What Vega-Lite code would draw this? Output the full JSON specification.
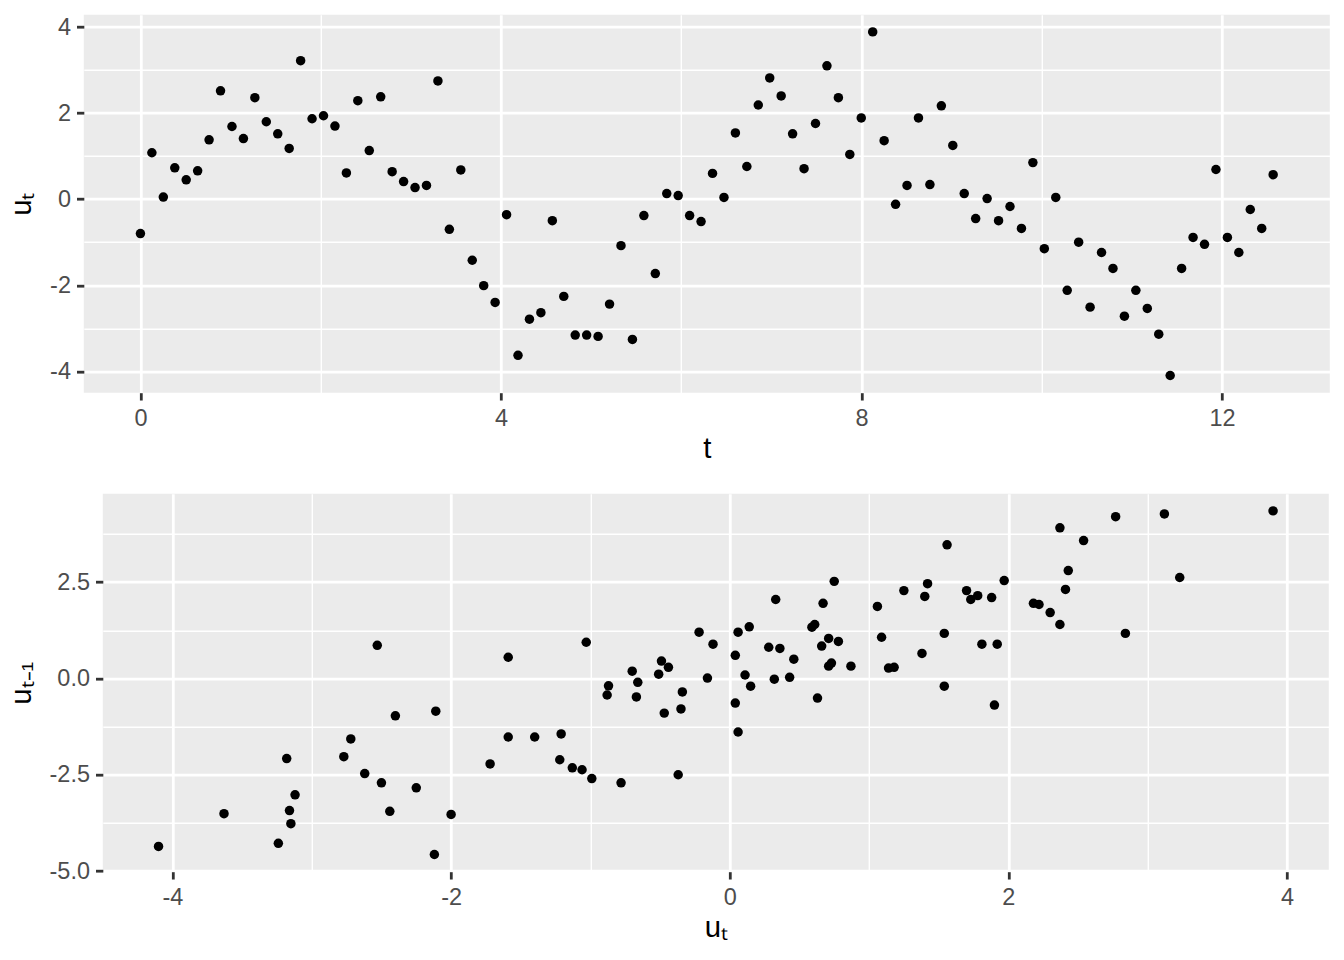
{
  "$schema": "https://vega.github.io/schema/vega-lite/v6.json",
  "background": "white",
  "padding": {"left": 5.8, "top": 14.7, "right": 14.7, "bottom": 10},
  "config": {
    "font": "Liberation Sans",
    "view": {"stroke": null},
    "axis": {
      "domain": false,
      "grid": true,
      "gridColor": "white",
      "tickColor": "#333333",
      "tickWidth": 2.8,
      "tickSize": 7.33,
      "labelFont": "Liberation Sans",
      "labelFontSize": 23.47,
      "labelColor": "#4D4D4D",
      "labelPadding": 6,
      "titleFont": "Liberation Sans",
      "titleFontSize": 29.33,
      "titleFontWeight": "normal",
      "titleColor": "#000000",
      "labelFlush": false,
      "labelOverlap": false
    },
    "axisX": {"titlePadding": 5},
    "axisY": {"titlePadding": 13}
  },
  "datasets": {
    "ts": [
      {"t": 0, "u": -0.80}, {"t": 0.1269, "u": 1.08}, {"t": 0.2539, "u": 0.05}, {"t": 0.3808, "u": 0.73}, {"t": 0.5077, "u": 0.45},
      {"t": 0.6347, "u": 0.66}, {"t": 0.7616, "u": 1.38}, {"t": 0.8885, "u": 2.52}, {"t": 1.0155, "u": 1.69}, {"t": 1.1424, "u": 1.41},
      {"t": 1.2693, "u": 2.36}, {"t": 1.3963, "u": 1.80}, {"t": 1.5232, "u": 1.52}, {"t": 1.6501, "u": 1.18}, {"t": 1.7771, "u": 3.22},
      {"t": 1.9040, "u": 1.87}, {"t": 2.0309, "u": 1.94}, {"t": 2.1579, "u": 1.70}, {"t": 2.2848, "u": 0.61}, {"t": 2.4117, "u": 2.29},
      {"t": 2.5387, "u": 1.13}, {"t": 2.6656, "u": 2.38}, {"t": 2.7925, "u": 0.64}, {"t": 2.9195, "u": 0.41}, {"t": 3.0464, "u": 0.27},
      {"t": 3.1733, "u": 0.32}, {"t": 3.3003, "u": 2.75}, {"t": 3.4272, "u": -0.70}, {"t": 3.5541, "u": 0.68}, {"t": 3.6811, "u": -1.42},
      {"t": 3.8080, "u": -2.01}, {"t": 3.9349, "u": -2.40}, {"t": 4.0619, "u": -0.36}, {"t": 4.1888, "u": -3.63}, {"t": 4.3157, "u": -2.79},
      {"t": 4.4427, "u": -2.64}, {"t": 4.5696, "u": -0.50}, {"t": 4.6965, "u": -2.26}, {"t": 4.8235, "u": -3.16}, {"t": 4.9504, "u": -3.16},
      {"t": 5.0773, "u": -3.19}, {"t": 5.2043, "u": -2.44}, {"t": 5.3312, "u": -1.08}, {"t": 5.4581, "u": -3.26}, {"t": 5.5851, "u": -0.38},
      {"t": 5.7120, "u": -1.73}, {"t": 5.8389, "u": 0.13}, {"t": 5.9659, "u": 0.085}, {"t": 6.0928, "u": -0.38}, {"t": 6.2197, "u": -0.52},
      {"t": 6.3467, "u": 0.60}, {"t": 6.4736, "u": 0.04}, {"t": 6.6005, "u": 1.54}, {"t": 6.7275, "u": 0.76}, {"t": 6.8544, "u": 2.19},
      {"t": 6.9813, "u": 2.82}, {"t": 7.1083, "u": 2.40}, {"t": 7.2352, "u": 1.52}, {"t": 7.3621, "u": 0.71}, {"t": 7.4891, "u": 1.76},
      {"t": 7.6160, "u": 3.10}, {"t": 7.7429, "u": 2.36}, {"t": 7.8699, "u": 1.04}, {"t": 7.9968, "u": 1.89}, {"t": 8.1237, "u": 3.89},
      {"t": 8.2507, "u": 1.36}, {"t": 8.3776, "u": -0.12}, {"t": 8.5045, "u": 0.32}, {"t": 8.6315, "u": 1.89}, {"t": 8.7584, "u": 0.34},
      {"t": 8.8853, "u": 2.17}, {"t": 9.0123, "u": 1.25}, {"t": 9.1392, "u": 0.13}, {"t": 9.2661, "u": -0.45}, {"t": 9.3931, "u": 0.015},
      {"t": 9.5200, "u": -0.50}, {"t": 9.6469, "u": -0.17}, {"t": 9.7739, "u": -0.68}, {"t": 9.9008, "u": 0.85}, {"t": 10.0277, "u": -1.15},
      {"t": 10.1547, "u": 0.04}, {"t": 10.2816, "u": -2.12}, {"t": 10.4085, "u": -1.00}, {"t": 10.5355, "u": -2.51}, {"t": 10.6624, "u": -1.24},
      {"t": 10.7893, "u": -1.61}, {"t": 10.9163, "u": -2.72}, {"t": 11.0432, "u": -2.12}, {"t": 11.1701, "u": -2.54}, {"t": 11.2971, "u": -3.14},
      {"t": 11.4240, "u": -4.10}, {"t": 11.5509, "u": -1.61}, {"t": 11.6779, "u": -0.89}, {"t": 11.8048, "u": -1.05}, {"t": 11.9317, "u": 0.69},
      {"t": 12.0587, "u": -0.89}, {"t": 12.1856, "u": -1.24}, {"t": 12.3125, "u": -0.24}, {"t": 12.4395, "u": -0.68}, {"t": 12.5664, "u": 0.57}
    ],
    "lag": [
      {"ut": -4.10, "ulag": -4.36}, {"ut": -3.63, "ulag": -3.51}, {"ut": -3.18, "ulag": -2.08}, {"ut": -3.24, "ulag": -4.28},
      {"ut": -3.16, "ulag": -3.43}, {"ut": -3.15, "ulag": -3.77}, {"ut": -3.12, "ulag": -3.02}, {"ut": -2.77, "ulag": -2.03},
      {"ut": -2.72, "ulag": -1.57}, {"ut": -2.62, "ulag": -2.47}, {"ut": -2.53, "ulag": 0.86}, {"ut": -2.50, "ulag": -2.71},
      {"ut": -2.44, "ulag": -3.45}, {"ut": -2.40, "ulag": -0.97},
      {"ut": -2.25, "ulag": -2.84}, {"ut": -2.11, "ulag": -0.85}, {"ut": -2.12, "ulag": -4.57}, {"ut": -2.00, "ulag": -3.53},
      {"ut": -1.72, "ulag": -2.22}, {"ut": -1.59, "ulag": 0.55}, {"ut": -1.59, "ulag": -1.52}, {"ut": -1.40, "ulag": -1.52},
      {"ut": -1.21, "ulag": -1.44}, {"ut": -1.22, "ulag": -2.11}, {"ut": -1.13, "ulag": -2.32}, {"ut": -1.06, "ulag": -2.37},
      {"ut": -1.03, "ulag": 0.94}, {"ut": -0.99, "ulag": -2.60}, {"ut": -0.88, "ulag": -0.43}, {"ut": -0.87, "ulag": -0.19},
      {"ut": -0.78, "ulag": -2.71}, {"ut": -0.70, "ulag": 0.19}, {"ut": -0.67, "ulag": -0.48}, {"ut": -0.66, "ulag": -0.10},
      {"ut": -0.51, "ulag": 0.11}, {"ut": -0.49, "ulag": 0.45}, {"ut": -0.47, "ulag": -0.90}, {"ut": -0.44, "ulag": 0.29},
      {"ut": -0.37, "ulag": -2.50}, {"ut": -0.35, "ulag": -0.79}, {"ut": -0.34, "ulag": -0.35}, {"ut": -0.22, "ulag": 1.20},
      {"ut": -0.16, "ulag": 0.01}, {"ut": -0.12, "ulag": 0.89},
      {"ut": 0.04, "ulag": 0.60}, {"ut": 0.06, "ulag": 1.20}, {"ut": 0.14, "ulag": 1.34}, {"ut": 0.04, "ulag": -0.64},
      {"ut": 0.06, "ulag": -1.39}, {"ut": 0.11, "ulag": 0.09}, {"ut": 0.15, "ulag": -0.20}, {"ut": 0.33, "ulag": 2.05},
      {"ut": 0.28, "ulag": 0.81}, {"ut": 0.36, "ulag": 0.78}, {"ut": 0.32, "ulag": -0.02}, {"ut": 0.43, "ulag": 0.03},
      {"ut": 0.46, "ulag": 0.50}, {"ut": 0.59, "ulag": 1.33}, {"ut": 0.61, "ulag": 1.40}, {"ut": 0.63, "ulag": -0.51},
      {"ut": 0.67, "ulag": 1.95}, {"ut": 0.66, "ulag": 0.84}, {"ut": 0.71, "ulag": 1.04}, {"ut": 0.71, "ulag": 0.32},
      {"ut": 0.73, "ulag": 0.40}, {"ut": 0.75, "ulag": 2.52}, {"ut": 0.78, "ulag": 0.96}, {"ut": 0.87, "ulag": 0.32},
      {"ut": 1.06, "ulag": 1.87}, {"ut": 1.09, "ulag": 1.07}, {"ut": 1.14, "ulag": 0.27}, {"ut": 1.18, "ulag": 0.29},
      {"ut": 1.25, "ulag": 2.28}, {"ut": 1.38, "ulag": 0.65}, {"ut": 1.40, "ulag": 2.13}, {"ut": 1.42, "ulag": 2.46},
      {"ut": 1.54, "ulag": 1.17}, {"ut": 1.54, "ulag": -0.20}, {"ut": 1.56, "ulag": 3.47}, {"ut": 1.70, "ulag": 2.28},
      {"ut": 1.73, "ulag": 2.05}, {"ut": 1.78, "ulag": 2.15}, {"ut": 1.81, "ulag": 0.89}, {"ut": 1.88, "ulag": 2.10},
      {"ut": 1.90, "ulag": -0.69}, {"ut": 1.92, "ulag": 0.89}, {"ut": 1.97, "ulag": 2.54},
      {"ut": 2.37, "ulag": 3.91}, {"ut": 2.77, "ulag": 4.20}, {"ut": 3.12, "ulag": 4.27}, {"ut": 3.90, "ulag": 4.35},
      {"ut": 2.54, "ulag": 3.58}, {"ut": 2.43, "ulag": 2.80}, {"ut": 3.23, "ulag": 2.62}, {"ut": 2.41, "ulag": 2.31},
      {"ut": 2.18, "ulag": 1.95}, {"ut": 2.22, "ulag": 1.92}, {"ut": 2.30, "ulag": 1.71}, {"ut": 2.37, "ulag": 1.40},
      {"ut": 2.84, "ulag": 1.17}
    ]
  },
  "spacing": 29,
  "vconcat": [
    {
      "spacing": 0,
      "hconcat": [
        {
          "width": 1, "height": 1,
          "view": {"fill": null, "stroke": null},
          "data": {"values": []},
          "mark": {"type": "point", "opacity": 0},
          "encoding": {}
        },
        {
          "width": 1246, "height": 378,
          "view": {"fill": "#EBEBEB", "stroke": null},
          "data": {"name": "ts"},
          "mark": {"type": "point", "filled": true, "color": "#000000", "opacity": 1, "size": 90, "strokeWidth": 0},
          "encoding": {
            "x": {
              "field": "t", "type": "quantitative",
              "scale": {"domain": [-0.6283, 13.1947], "nice": false, "zero": false},
              "axis": {
                "title": "t",
                "values": [0, 2, 4, 6, 8, 10, 12],
                "labelExpr": "datum.value % 4 === 0 ? (datum.value < 0 ? '-' + format(-datum.value, 'd') : format(datum.value, 'd')) : ''",
                "gridWidth": {"condition": {"test": "datum.value % 4 === 0", "value": 2.8}, "value": 1.4},
                "tickOpacity": {"condition": {"test": "datum.value % 4 === 0", "value": 1}, "value": 0}
              }
            },
            "y": {
              "field": "u", "type": "quantitative",
              "scale": {"domain": [-4.4995, 4.2895], "nice": false, "zero": false},
              "axis": {
                "title": "u\u209c",
                "values": [-4, -3, -2, -1, 0, 1, 2, 3, 4],
                "labelExpr": "datum.value % 2 === 0 ? (datum.value < 0 ? '-' + format(-datum.value, 'd') : format(datum.value, 'd')) : ''",
                "gridWidth": {"condition": {"test": "datum.value % 2 === 0", "value": 2.8}, "value": 1.4},
                "tickOpacity": {"condition": {"test": "datum.value % 2 === 0", "value": 1}, "value": 0}
              }
            }
          }
        }
      ]
    },
    {
      "spacing": 0,
      "hconcat": [
        {
          "width": 1, "height": 1,
          "view": {"fill": null, "stroke": null},
          "data": {"values": []},
          "mark": {"type": "point", "opacity": 0},
          "encoding": {}
        },
        {
          "width": 1226, "height": 378,
          "view": {"fill": "#EBEBEB", "stroke": null},
          "data": {"name": "lag"},
          "mark": {"type": "point", "filled": true, "color": "#000000", "opacity": 1, "size": 90, "strokeWidth": 0},
          "encoding": {
            "x": {
              "field": "ut", "type": "quantitative",
              "scale": {"domain": [-4.5, 4.3], "nice": false, "zero": false},
              "axis": {
                "title": "u\u209c",
                "values": [-4, -3, -2, -1, 0, 1, 2, 3, 4],
                "labelExpr": "datum.value % 2 === 0 ? (datum.value < 0 ? '-' + format(-datum.value, 'd') : format(datum.value, 'd')) : ''",
                "gridWidth": {"condition": {"test": "datum.value % 2 === 0", "value": 2.8}, "value": 1.4},
                "tickOpacity": {"condition": {"test": "datum.value % 2 === 0", "value": 1}, "value": 0}
              }
            },
            "y": {
              "field": "ulag", "type": "quantitative",
              "scale": {"domain": [-5.016, 4.796], "nice": false, "zero": false},
              "axis": {
                "title": "u\u209c\u208b\u2081",
                "values": [-5, -3.75, -2.5, -1.25, 0, 1.25, 2.5, 3.75],
                "labelExpr": "datum.value % 2.5 === 0 ? (datum.value < 0 ? '-' + format(-datum.value, '.1f') : format(datum.value, '.1f')) : ''",
                "gridWidth": {"condition": {"test": "datum.value % 2.5 === 0", "value": 2.8}, "value": 1.4},
                "tickOpacity": {"condition": {"test": "datum.value % 2.5 === 0", "value": 1}, "value": 0}
              }
            }
          }
        }
      ]
    }
  ]
}
